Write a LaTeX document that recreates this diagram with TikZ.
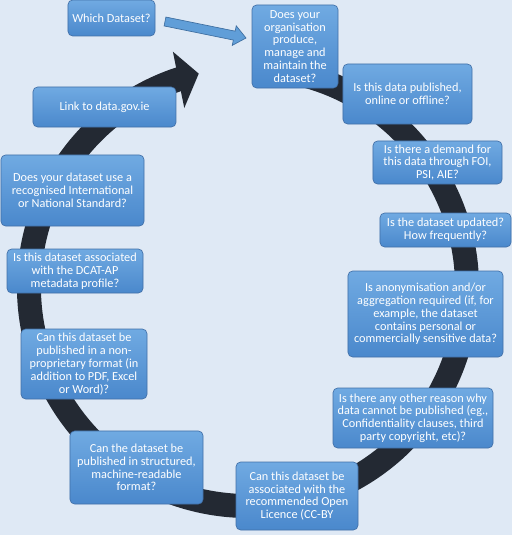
\documentclass[tikz,border=0pt]{standalone}
\usepackage{fontspec}
\setmainfont{Carlito}
\usepackage{tikz}
\usetikzlibrary{calc}

\definecolor{bgblue}{RGB}{223,233,245}
\definecolor{ringdark}{RGB}{35,41,51}
\definecolor{boxtop}{RGB}{112,170,226}
\definecolor{boxbot}{RGB}{74,136,204}
\definecolor{boxedge}{RGB}{66,112,168}
\definecolor{arrowfill}{RGB}{96,158,216}
\definecolor{arrowedge}{RGB}{62,110,160}

\tikzset{
  qbox/.style={rounded corners=3.5pt, draw=boxedge, line width=0.5pt,
    top color=boxtop, bottom color=boxbot, text=white, align=center,
    inner sep=0pt, font=\fontsize{9.2}{9.6}\selectfont},
  ring/.style={draw=ringdark, line width=18pt}
}

\begin{document}
\begin{tikzpicture}[x=0.75pt,y=0.75pt,yscale=-1,xscale=1]
    %background, 512 x 535
    \path[fill=bgblue,use as bounding box] (0,0) rectangle (512,535);
    
    %Circular Arrow
    \coordinate (ctr) at (248,287);
    \draw[ring] ($(ctr)+(-80:219)$) arc[start angle=-80, end angle=252, radius=219];
    \fill[ringdark] ($(ctr)+(252.3:247)$) -- ($(ctr)+(257:219)$) -- ($(ctr)+(250.4:190)$) -- cycle;
    
    %Rounded Rect
    \node (which) at (111.5,18) [qbox, minimum width=65.3pt, minimum height=27pt] {Which Dataset?};
    %Rounded Rect
    \node (produce) at (295,46.5) [qbox, minimum width=64.5pt, minimum height=62.3pt] {Does your\\organisation\\produce,\\manage and\\maintain the\\dataset?};
    %Rounded Rect
    \node (published) at (407.5,94) [qbox, minimum width=96.8pt, minimum height=45pt] {Is this data published,\\online or offline?};
    %Rounded Rect
    \node (demand) at (437.5,162.5) [qbox, minimum width=96.8pt, minimum height=32.3pt] {Is there a demand for\\this data through FOI,\\PSI, AIE?};
    %Rounded Rect
    \node (updated) at (445.5,230) [qbox, minimum width=98.3pt, minimum height=25.5pt] {Is the dataset updated?\\How frequently?};
    %Rounded Rect
    \node (anonym) at (425.5,314) [qbox, minimum width=116.3pt, minimum height=64.5pt] {Is anonymisation and/or\\aggregation required (if, for\\example, the dataset\\contains personal or\\commercially sensitive data?};
    %Rounded Rect
    \node (reason) at (413,418) [qbox, minimum width=120pt, minimum height=45pt] {Is there any other reason why\\data cannot be published (eg.,\\Confidentiality clauses, third\\party copyright, etc)?};
    %Rounded Rect
    \node (licence) at (297,496) [qbox, minimum width=91.5pt, minimum height=51pt] {Can this dataset be\\associated with the\\recommended Open\\Licence (CC-BY};
    %Rounded Rect
    \node (structured) at (136.5,467.5) [qbox, minimum width=99.8pt, minimum height=54.8pt] {Can the dataset be\\published in structured,\\machine-readable\\format?};
    %Rounded Rect
    \node (nonprop) at (84,364) [qbox, minimum width=94.5pt, minimum height=52.5pt] {Can this dataset be\\published in a non-\\proprietary format (in\\addition to PDF, Excel\\or Word)?};
    %Rounded Rect
    \node (dcat) at (75,271) [qbox, minimum width=102pt, minimum height=33pt] {Is this dataset associated\\with the DCAT-AP\\metadata profile?};
    %Rounded Rect
    \node (standard) at (72.5,190.5) [qbox, minimum width=107.3pt, minimum height=53.3pt] {Does your dataset use a\\recognised International\\or National Standard?};
    %Rounded Rect
    \node (link) at (104.5,107) [qbox, minimum width=107.3pt, minimum height=30pt] {Link to data.gov.ie};
    
    %Right Arrow
    \coordinate (wa) at (165,21.5);
    \coordinate (wb) at (246,38);
    \coordinate (hb) at ($(wb)!9pt!(wa)$);
    \draw[fill=arrowfill, draw=arrowedge, line width=0.5pt] ($(wa)!3.4pt!90:(wb)$) -- ($(hb)!3.4pt!-90:(wa)$) -- ($(hb)!7.5pt!-90:(wa)$) -- (wb) -- ($(hb)!7.5pt!90:(wa)$) -- ($(hb)!3.4pt!90:(wa)$) -- ($(wa)!3.4pt!-90:(wb)$) -- cycle;
    
\end{tikzpicture}
\end{document}
